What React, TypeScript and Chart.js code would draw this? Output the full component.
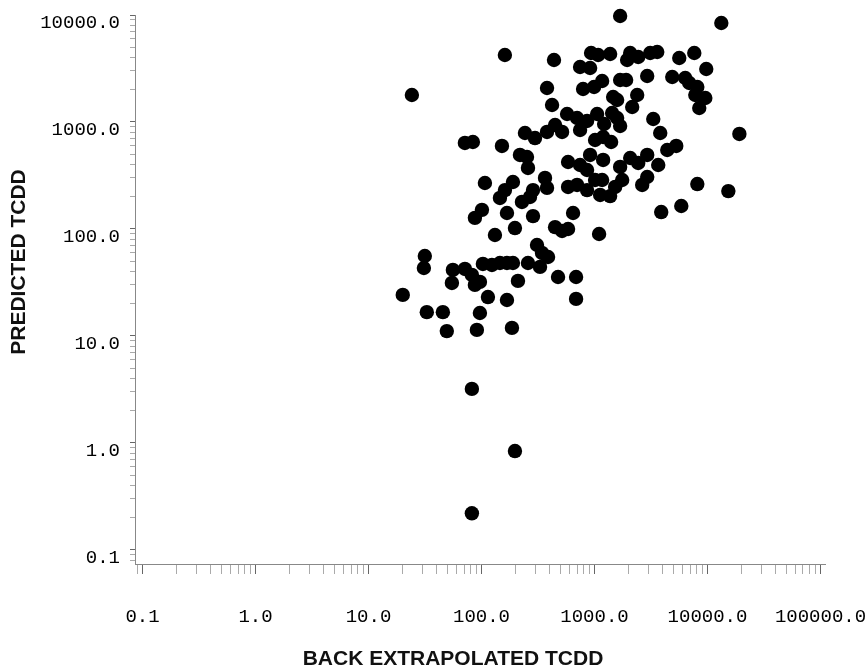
import React, { useEffect, useRef } from "react";
import { Chart, registerables } from "chart.js";

Chart.register(...registerables);

// Back extrapolated TCDD (x) vs predicted TCDD (y)
const backExtrapolated = [
  1686, 13250, 161, 438, 24.2, 933, 1077, 1375, 745, 914,
  2069, 1945, 2437, 3111, 3589, 5623, 7638, 9750, 380, 792,
  991, 1168, 1686, 1905, 2927, 4875, 6353, 6898, 8127, 7798,
  9565, 8453, 1462, 1585, 2387, 2155, 421, 572, 701, 859,
  1055, 745, 1217, 1432, 1585, 1686, 1192, 1403, 1012, 3311,
  3816, 19140, 4403, 5289, 1192, 2069, 2437, 2927, 3664, 1686,
  2927, 2642, 1757, 1523, 1375, 1168, 8127, 15290, 3894, 5861,
  71.3, 83.9, 151.7, 219, 252.6, 257.8, 242.5, 297.3, 380, 447.7,
  516.5, 583.6, 745, 914, 859, 107.2, 189.8, 161.2, 145.6, 228,
  285.6, 364.8, 380, 268.6, 583.6, 701, 859, 1012, 1122, 100.9,
  87.4, 168, 285.6, 646, 197.7, 447.7, 516.5, 583.6, 131.5, 1098,
  31.5, 30.9, 55.8, 71.3, 82.2, 54.7, 87.4, 96.8, 102.9, 123.7,
  145.6, 168, 189.8, 257.8, 309.8, 343, 387.9, 329.5, 210.2, 475.7,
  687, 687, 20.1, 114, 168, 32.8, 45.5, 96.8, 49.3, 91.0,
  186, 82.2, 197.7, 82.2,
];

const predicted = [
  9790, 8420, 4227, 3795, 1787, 4413, 4227, 4320, 3266, 3197,
  4413, 3795, 4048, 4413, 4510, 3963, 4413, 3129, 2077, 2033,
  2122, 2416, 2469, 2469, 2691, 2634, 2578, 2314, 2122, 1787,
  1677, 1352, 1713, 1606, 1787, 1381, 1442, 1187, 1089, 1021,
  1187, 842, 958, 1213, 1089, 917, 724, 650, 679, 1067,
  789, 773, 547, 597, 442, 461, 414, 492, 396, 380,
  306, 258, 287, 247, 203, 287, 263, 226, 144, 164,
  637, 650, 597, 492, 471, 372, 789, 708, 807, 937,
  807, 423, 396, 492, 356, 269, 275, 231, 195, 179,
  231, 300, 242, 199, 247, 258, 231, 287, 208, 151,
  127, 141, 132, 141, 102, 104, 95.8, 100, 87.9, 89.8,
  55.9, 43.2, 41.4, 42.3, 37.2, 31.3, 30.0, 32.0, 47.1, 46.1,
  48.1, 48.1, 48.1, 48.1, 70.8, 59.7, 54.7, 44.2, 32.7, 35.6,
  35.6, 22.2, 24.2, 23.1, 21.7, 16.7, 16.7, 16.4, 11.1, 11.4,
  11.9, 3.2, 0.84, 0.22,
];

const xTickValues = [0.1, 1, 10, 100, 1000, 10000, 100000];
const yTickValues = [0.1, 1, 10, 100, 1000, 10000];
const minorMultipliers = [2, 3, 4, 5, 6, 7, 8, 9];

const xTitle = "BACK EXTRAPOLATED TCDD";
const yTitle = "PREDICTED TCDD";

function buildTicks(majors: number[], min: number, max: number) {
  const out: { value: number; major: boolean }[] = [];
  const decades = [majors[0] / 10, ...majors];
  decades.forEach((d) => {
    if (d >= min && d <= max) out.push({ value: d, major: true });
    minorMultipliers.forEach((m) => {
      const v = Number((d * m).toPrecision(6));
      if (v >= min && v <= max) out.push({ value: v, major: false });
    });
  });
  out.sort((a, b) => a.value - b.value);
  return out;
}

const isMajor = (v: number, majors: number[]) =>
  majors.some((m) => Math.abs(m - v) / m < 1e-6);

const tickFont = { family: "'Liberation Mono', 'DejaVu Sans Mono', monospace", size: 19 };

export default function App() {
  const ref = useRef<HTMLCanvasElement | null>(null);

  useEffect(() => {
    if (!ref.current) return;
    const points = backExtrapolated.map((x, i) => ({ x, y: predicted[i] }));
    const xMin = 0.0858, xMax = 109600;
    const yMin = 0.0739, yMax = 10000;

    const titlesPlugin = {
      id: "axisTitles",
      afterDraw(chart: any) {
        const { ctx } = chart;
        ctx.save();
        ctx.fillStyle = "#111";
        ctx.font = "bold 21px 'Liberation Sans', Arial, sans-serif";
        ctx.textAlign = "center";
        ctx.textBaseline = "alphabetic";
        ctx.fillText(xTitle, 453, 665);
        ctx.translate(25, 262);
        ctx.rotate(-Math.PI / 2);
        ctx.fillText(yTitle, 0, 0);
        ctx.restore();
      },
    };

    const chart = new Chart(ref.current, {
      type: "scatter",
      data: {
        datasets: [
          {
            data: points,
            backgroundColor: "#000",
            borderColor: "#000",
            borderWidth: 0,
            pointRadius: 7.2,
            pointHoverRadius: 7.2,
            clip: false as any,
          },
        ],
      },
      options: {
        responsive: false,
        animation: false,
        events: [],
        layout: { padding: { top: 15, right: 41, left: 0, bottom: 0 } },
        plugins: { legend: { display: false }, tooltip: { enabled: false } },
        scales: {
          x: {
            type: "logarithmic",
            position: "bottom",
            min: xMin,
            max: xMax,
            afterBuildTicks: (s: any) => {
              s.ticks = buildTicks(xTickValues, xMin, xMax);
            },
            afterFit: (s: any) => {
              s.height = 106;
              s.paddingLeft = 0;
              s.paddingRight = 0;
            },
            ticks: {
              autoSkip: false,
              maxRotation: 0,
              minRotation: 0,
              padding: 32,
              color: "#000",
              font: tickFont,
              callback: (v: any) => (isMajor(Number(v), xTickValues) ? Number(v).toFixed(1) : ""),
            },
            grid: {
              drawOnChartArea: false,
              drawTicks: true,
              tickLength: 10,
              tickColor: (c: any) => (c.tick && isMajor(c.tick.value, xTickValues) ? "#666" : "#aaa"),
            },
            border: { display: true, color: "#888", width: 1 },
          },
          y: {
            type: "logarithmic",
            position: "left",
            min: yMin,
            max: yMax,
            afterBuildTicks: (s: any) => {
              s.ticks = buildTicks(yTickValues, yMin, yMax);
            },
            afterFit: (s: any) => {
              s.width = 135;
              s.paddingTop = 0;
              s.paddingBottom = 0;
            },
            ticks: {
              autoSkip: false,
              padding: 10,
              labelOffset: 8,
              color: "#000",
              font: tickFont,
              callback: (v: any) => (isMajor(Number(v), yTickValues) ? Number(v).toFixed(1) : ""),
            },
            grid: {
              drawOnChartArea: false,
              drawTicks: true,
              tickLength: 5,
              tickColor: (c: any) => (c.tick && isMajor(c.tick.value, yTickValues) ? "#666" : "#aaa"),
            },
            border: { display: true, color: "#888", width: 1 },
          },
        },
      },
      plugins: [titlesPlugin],
    });
    return () => chart.destroy();
  }, []);

  return (
    <div style={{ position: "absolute", left: 0, top: 0, width: 866, height: 670, background: "#fff" }}>
      <canvas ref={ref} width={866} height={670} style={{ display: "block" }} />
    </div>
  );
}
